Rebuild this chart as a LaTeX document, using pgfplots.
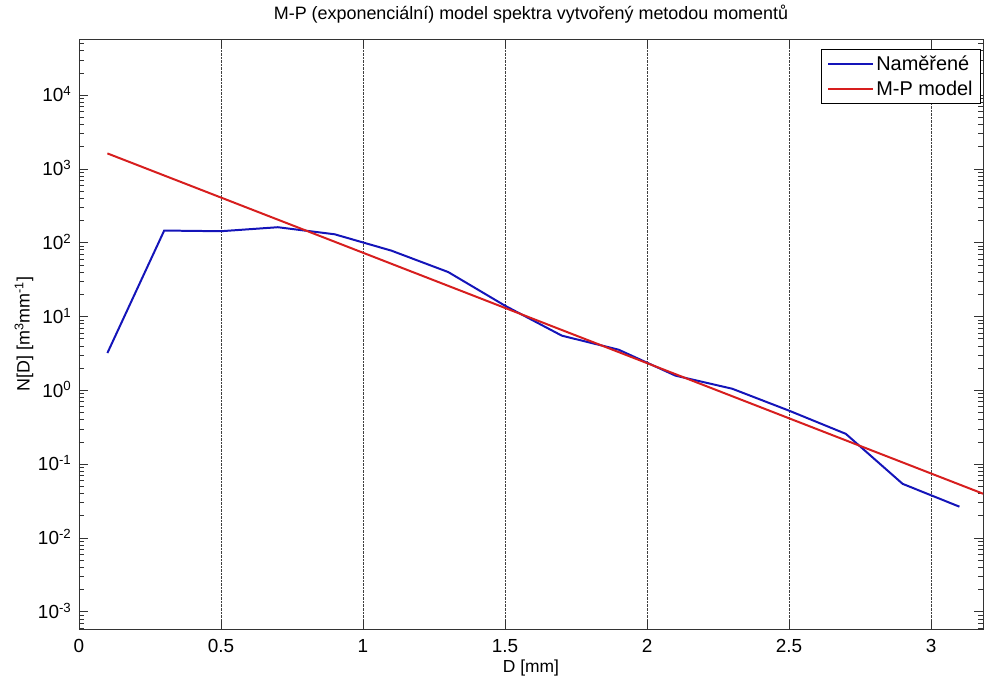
\documentclass[border=0pt]{standalone}
\usepackage{fontspec}
\setmainfont{Liberation Sans}
\usepackage{pgfplots}
\pgfplotsset{compat=1.18}
\definecolor{mblue}{RGB}{20,20,185}
\definecolor{mred}{RGB}{215,30,30}
\begin{document}
\fontsize{18}{22}\selectfont
\begin{tikzpicture}
\begin{axis}[name=ax, at={(0,0)}, anchor=south west,
  scale only axis, width=904bp, height=590bp,
  xmin=0, xmax=3.183,
  ymode=log, log basis y=10, ymin=5.83e-4, ymax=5.75e4,
  xtick={0,0.5,1,1.5,2,2.5,3}, xticklabels={0,0.5,1,1.5,2,2.5,3},
  ytick={1e-3,1e-2,1e-1,1,1e1,1e2,1e3,1e4},
  minor ytick={6e-4,7e-4,8e-4,9e-4,
    2e-3,3e-3,4e-3,5e-3,6e-3,7e-3,8e-3,9e-3,
    2e-2,3e-2,4e-2,5e-2,6e-2,7e-2,8e-2,9e-2,
    0.2,0.3,0.4,0.5,0.6,0.7,0.8,0.9,
    2,3,4,5,6,7,8,9,
    20,30,40,50,60,70,80,90,
    200,300,400,500,600,700,800,900,
    2000,3000,4000,5000,6000,7000,8000,9000,
    2e4,3e4,4e4,5e4},
  yticklabels={{10\textsuperscript{-3}},{10\textsuperscript{-2}},{10\textsuperscript{-1}},{10\textsuperscript{0}},{10\textsuperscript{1}},{10\textsuperscript{2}},{10\textsuperscript{3}},{10\textsuperscript{4}}},
  ticklabel style={font=\fontsize{19}{22}\selectfont},
  xticklabel style={anchor=base, yshift=-23bp},
  yticklabel style={anchor=base east, yshift=-6.8bp, xshift=-1.5bp},
  xmajorgrids=true, ymajorgrids=false, yminorgrids=false,
  major grid style={densely dotted, black!75, line width=0.6pt},
  tick align=inside, major tick length=9bp, minor tick length=5bp,
  axis line style={black!80, line width=0.8pt},
  every tick/.style={black!80, line width=0.7pt},
  title={M-P (exponenciální) model spektra vytvořený metodou momentů},
  title style={font=\fontsize{18}{22}\selectfont, at={(axis description cs:0.5,1.0237)}, anchor=base},
  xlabel={D [mm]},
  xlabel style={font=\fontsize{17.5}{22}\selectfont, at={(axis description cs:0.5,-0.0729)}, anchor=base},
  ylabel={N[D] [m\textsuperscript{3}mm\textsuperscript{-1}]},
  ylabel style={font=\fontsize{18}{22}\selectfont, at={(axis description cs:-0.0608,0.5)}, anchor=center},
  legend style={at={(1,1)}, anchor=north east, xshift=-2bp, yshift=-10bp,
    font=\fontsize{20}{24}\selectfont, draw=black, line width=0.8pt,
    inner xsep=6bp, inner ysep=4bp, row sep=4bp},
  legend cell align=left,
  legend image code/.code={\draw[#1] (0bp,0bp) -- (45bp,0bp);},
]
\addplot[mblue, line width=2pt] coordinates {
(0.1,3.2) (0.3,146) (0.5,143) (0.7,162) (0.9,130) (1.1,78) (1.3,40)
(1.5,14) (1.7,5.5) (1.9,3.55) (2.1,1.58) (2.3,1.05) (2.5,0.53)
(2.7,0.257) (2.9,0.054) (3.1,0.0265)};
\addlegendentry{Naměřené}
\addplot[mred, line width=2pt] coordinates {(0.1,1620) (3.2,0.0375)};
\addlegendentry{M-P model}
\end{axis}
\pgfresetboundingbox
\path[use as bounding box] ([xshift=-79bp,yshift=-51bp]ax.south west) rectangle ([xshift=1bp,yshift=39bp]ax.north east);
\end{tikzpicture}
\end{document}
